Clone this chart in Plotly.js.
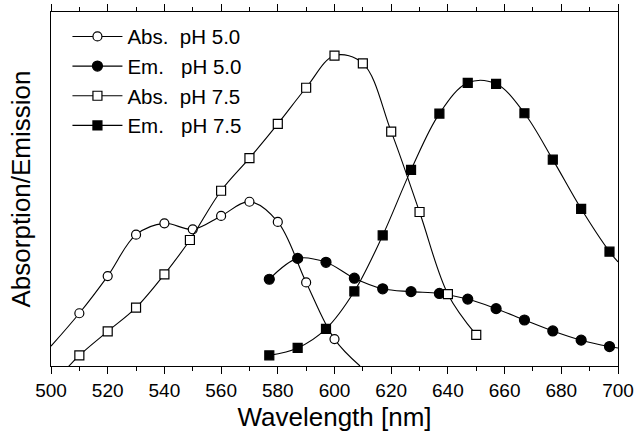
<!DOCTYPE html>
<html>
<head>
<meta charset="utf-8">
<script src="https://cdn.plot.ly/plotly-3.0.1.min.js"></script>
<style>html,body{margin:0;padding:0;background:#fff;}#chart{width:639px;height:432px;}</style>
</head>
<body>
<div id="chart"></div>
<script>
// Wavelength (nm) and relative intensity (a.u.).
// Endpoints without markers are where the drawn curves meet the frame.
const absPH50X = [500, 510, 520, 530, 540, 550, 560, 570, 580, 590, 600, 609];
const absPH50Y = [0.056, 0.149, 0.254, 0.371, 0.403, 0.386, 0.424, 0.464, 0.407, 0.236, 0.076, 0.0];
const absPH50Marked = [false, true, true, true, true, true, true, true, true, true, true, false];

const emPH50X = [577, 587, 597, 607, 617, 627, 637, 647, 657, 667, 677, 687, 697, 700];
const emPH50Y = [0.245, 0.304, 0.293, 0.248, 0.218, 0.210, 0.205, 0.189, 0.162, 0.130, 0.099, 0.073, 0.055, 0.051];
const emPH50Marked = [true, true, true, true, true, true, true, true, true, true, true, true, true, false];

const absPH75X = [505, 510, 520, 530, 540, 549, 560, 570, 580, 590, 600, 610, 620, 630, 640, 650];
const absPH75Y = [-0.012, 0.030, 0.098, 0.165, 0.259, 0.356, 0.495, 0.587, 0.684, 0.786, 0.877, 0.855, 0.662, 0.435, 0.203, 0.088];
const absPH75Marked = [false, true, true, true, true, true, true, true, true, true, true, true, true, true, true, true];

const emPH75X = [577, 587, 597, 607, 617, 627, 637, 647, 657, 667, 677, 687, 697, 700];
const emPH75Y = [0.030, 0.051, 0.105, 0.211, 0.369, 0.554, 0.713, 0.800, 0.797, 0.714, 0.583, 0.444, 0.323, 0.294];
const emPH75Marked = [true, true, true, true, true, true, true, true, true, true, true, true, true, false];

const seriesNames = ['Abs.\u00a0\u00a0pH 5.0', 'Em.\u00a0\u00a0\u00a0pH 5.0', 'Abs.\u00a0\u00a0pH 7.5', 'Em.\u00a0\u00a0\u00a0pH 7.5'];
const xTickVals = [500, 520, 540, 560, 580, 600, 620, 640, 660, 680, 700];

const series = [
  {x: absPH50X, y: absPH50Y, m: absPH50Marked, sym: 'circle', fill: 'white', size: 9},
  {x: emPH50X, y: emPH50Y, m: emPH50Marked, sym: 'circle', fill: 'black', size: 10},
  {x: absPH75X, y: absPH75Y, m: absPH75Marked, sym: 'square', fill: 'white', size: 9},
  {x: emPH75X, y: emPH75Y, m: emPH75Marked, sym: 'square', fill: 'black', size: 9}
];

const traces = [];
series.forEach((s, i) => {
  traces.push({
    x: s.x, y: s.y, type: 'scatter', mode: 'lines+markers',
    line: {shape: 'spline', smoothing: 1, color: 'black', width: 1.1},
    marker: {symbol: s.sym, color: s.fill, opacity: 1, size: s.m.map(v => v ? s.size : 0),
             line: {color: 'black', width: 1.2}},
    showlegend: false, hoverinfo: 'x+y', cliponaxis: true
  });
});
// legend entries
series.forEach((s, i) => {
  traces.push({
    x: [null], y: [null], type: 'scatter', mode: 'lines+markers', name: seriesNames[i],
    line: {color: 'black', width: 1.1},
    marker: {symbol: s.sym, color: s.fill, opacity: 1, size: s.size, line: {color: 'black', width: 1.2}},
    showlegend: true
  });
});

const fontFam = 'Liberation Sans, Arial, sans-serif';
const layout = {
  width: 639, height: 432,
  margin: {l: 51, r: 21, t: 12, b: 66},
  paper_bgcolor: 'white', plot_bgcolor: 'white',
  font: {family: fontFam, color: 'black'},
  showlegend: true,
  legend: {x: 0.029, y: 0.987, xanchor: 'left', yanchor: 'top', bgcolor: 'rgba(0,0,0,0)',
           borderwidth: 0, font: {size: 20.5, family: fontFam, color: 'black'}, itemwidth: 50,
           tracegroupgap: 0},
  xaxis: {
    range: [500, 700], tickvals: xTickVals, ticktext: xTickVals.map(String),
    ticks: 'outside', ticklen: 7, tickwidth: 1, tickcolor: 'black',
    minor: {dtick: 10, ticks: 'outside', ticklen: 4, tickwidth: 1, tickcolor: 'black'},
    showline: true, linecolor: 'black', linewidth: 1.3, mirror: 'ticks',
    showgrid: false, zeroline: false,
    tickfont: {size: 19, family: fontFam, color: 'black'},
    title: {text: 'Wavelength [nm]', font: {size: 26, family: fontFam, color: 'black'}, standoff: 10}
  },
  yaxis: {
    range: [0, 1], showticklabels: false, ticks: '',
    showline: true, linecolor: 'black', linewidth: 1.3, mirror: true,
    showgrid: false, zeroline: false,
    title: {text: 'Absorption/Emission', font: {size: 26, family: fontFam, color: 'black'}, standoff: 11}
  }
};

Plotly.newPlot('chart', traces, layout, {displayModeBar: false, staticPlot: true});
</script>
</body>
</html>
